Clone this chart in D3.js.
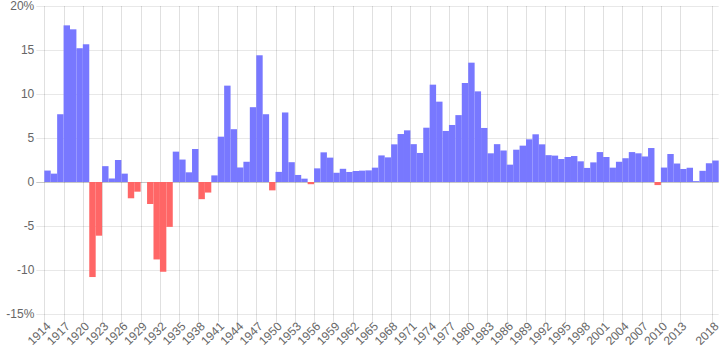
<!DOCTYPE html>
<html>
<head>
<meta charset="utf-8">
<script src="https://cdn.jsdelivr.net/npm/d3@7"></script>
<style>
  body { margin: 0; background: #fff; }
  svg { display: block; font-family: "Helvetica Neue", Helvetica, Arial, sans-serif; }
</style>
</head>
<body>
<div id="chart"></div>
<script>
// yearly values (%)
const years = [
  1914, 1915, 1916, 1917, 1918, 1919, 1920, 1921, 1922, 1923, 1924, 1925, 1926, 1927, 1928,
  1929, 1930, 1931, 1932, 1933, 1934, 1935, 1936, 1937, 1938, 1939, 1940, 1941, 1942, 1943,
  1944, 1945, 1946, 1947, 1948, 1949, 1950, 1951, 1952, 1953, 1954, 1955, 1956, 1957, 1958,
  1959, 1960, 1961, 1962, 1963, 1964, 1965, 1966, 1967, 1968, 1969, 1970, 1971, 1972, 1973,
  1974, 1975, 1976, 1977, 1978, 1979, 1980, 1981, 1982, 1983, 1984, 1985, 1986, 1987, 1988,
  1989, 1990, 1991, 1992, 1993, 1994, 1995, 1996, 1997, 1998, 1999, 2000, 2001, 2002, 2003,
  2004, 2005, 2006, 2007, 2008, 2009, 2010, 2011, 2012, 2013, 2014, 2015, 2016, 2017, 2018,
];

const inflation = [
  1.3, 0.95, 7.7, 17.8, 17.35, 15.2, 15.65, -10.8, -6.1, 1.8, 0.4, 2.5, 0.95, -1.85, -1.1,
  0, -2.5, -8.8, -10.2, -5.1, 3.45, 2.55, 1.1, 3.75, -1.95, -1.2, 0.75, 5.15, 10.95, 6.0,
  1.65, 2.3, 8.5, 14.4, 7.7, -0.95, 1.15, 7.9, 2.25, 0.8, 0.38, -0.25, 1.55, 3.37, 2.77,
  1.05, 1.5, 1.14, 1.25, 1.29, 1.32, 1.63, 3.02, 2.8, 4.28, 5.45, 5.87, 4.3, 3.3, 6.17,
  11.06, 9.13, 5.8, 6.48, 7.6, 11.25, 13.56, 10.3, 6.14, 3.26, 4.3, 3.58, 1.97, 3.67, 4.13,
  4.85, 5.42, 4.28, 3.05, 3.0, 2.61, 2.84, 2.95, 2.35, 1.6, 2.23, 3.4, 2.84, 1.63, 2.3,
  2.7, 3.4, 3.26, 2.9, 3.86, -0.35, 1.64, 3.18, 2.1, 1.48, 1.62, 0.1, 1.27, 2.13, 2.44,
];

const xTickYears = [
  1914, 1917, 1920, 1923, 1926, 1929, 1932, 1935, 1938, 1941, 1944, 1947, 1950, 1953, 1956,
  1959, 1962, 1965, 1968, 1971, 1974, 1977, 1980, 1983, 1986, 1989, 1992, 1995, 1998, 2001,
  2004, 2007, 2010, 2013, 2018,
];

const yTicks = [20, 15, 10, 5, 0, -5, -10, -15];
const yTickLabels = ['20%', '15', '10', '5', '0', '-5', '-10', '-15%'];

const margin = {
  top: 6, right: 6.3, bottom: 48, left: 44.3,
};
const width = 725;
const height = 362;
const innerW = width - margin.left - margin.right;
const innerH = height - margin.top - margin.bottom;
const tickLen = 8;

const svg = d3.select('#chart')
  .append('svg')
  .attr('width', width)
  .attr('height', height);

const g = svg.append('g')
  .attr('transform', `translate(${margin.left},${margin.top})`);

const x = d3.scaleBand()
  .domain(years)
  .range([0, innerW])
  .padding(0);

const y = d3.scaleLinear()
  .domain([-15, 20])
  .range([innerH, 0]);

// horizontal grid lines (with little tick marks on the left)
g.append('g')
  .selectAll('line')
  .data(yTicks)
  .join('line')
  .attr('x1', -tickLen)
  .attr('x2', innerW)
  .attr('y1', (d) => Math.round(y(d) + margin.top) - margin.top + 0.5)
  .attr('y2', (d) => Math.round(y(d) + margin.top) - margin.top + 0.5)
  .attr('stroke', (d) => (d === 0 ? 'rgba(0,0,0,0.22)' : 'rgba(0,0,0,0.09)'));

// vertical grid lines sit on the left edge of each labelled year
g.append('g')
  .selectAll('line')
  .data(xTickYears)
  .join('line')
  .attr('x1', (d) => Math.round(x(d) + margin.left) - margin.left + 0.5)
  .attr('x2', (d) => Math.round(x(d) + margin.left) - margin.left + 0.5)
  .attr('y1', 0)
  .attr('y2', innerH + tickLen)
  .attr('stroke', 'rgba(0,0,0,0.12)');

// bars
g.append('g')
  .selectAll('rect')
  .data(years)
  .join('rect')
  .attr('x', (d) => x(d))
  .attr('width', x.bandwidth())
  .attr('y', (d, i) => y(Math.max(0, inflation[i])))
  .attr('height', (d, i) => Math.abs(y(inflation[i]) - y(0)))
  .attr('fill', (d, i) => (inflation[i] < 0 ? '#ff6666' : '#7878ff'));

// y labels
g.append('g')
  .selectAll('text')
  .data(yTicks)
  .join('text')
  .attr('x', -tickLen - 2)
  .attr('y', (d) => y(d))
  .attr('dy', '0.35em')
  .attr('text-anchor', 'end')
  .attr('fill', '#666')
  .style('font-size', '12px')
  .text((d, i) => yTickLabels[i]);

// x labels, rotated
g.append('g')
  .selectAll('text')
  .data(xTickYears)
  .join('text')
  .attr('transform', (d) => `translate(${x(d) + x.bandwidth() / 2 + 1},${innerH + tickLen + 2}) rotate(-45)`)
  .attr('dy', '0.35em')
  .attr('text-anchor', 'end')
  .attr('fill', '#666')
  .style('font-size', '12px')
  .text((d) => d);
</script>
</body>
</html>
